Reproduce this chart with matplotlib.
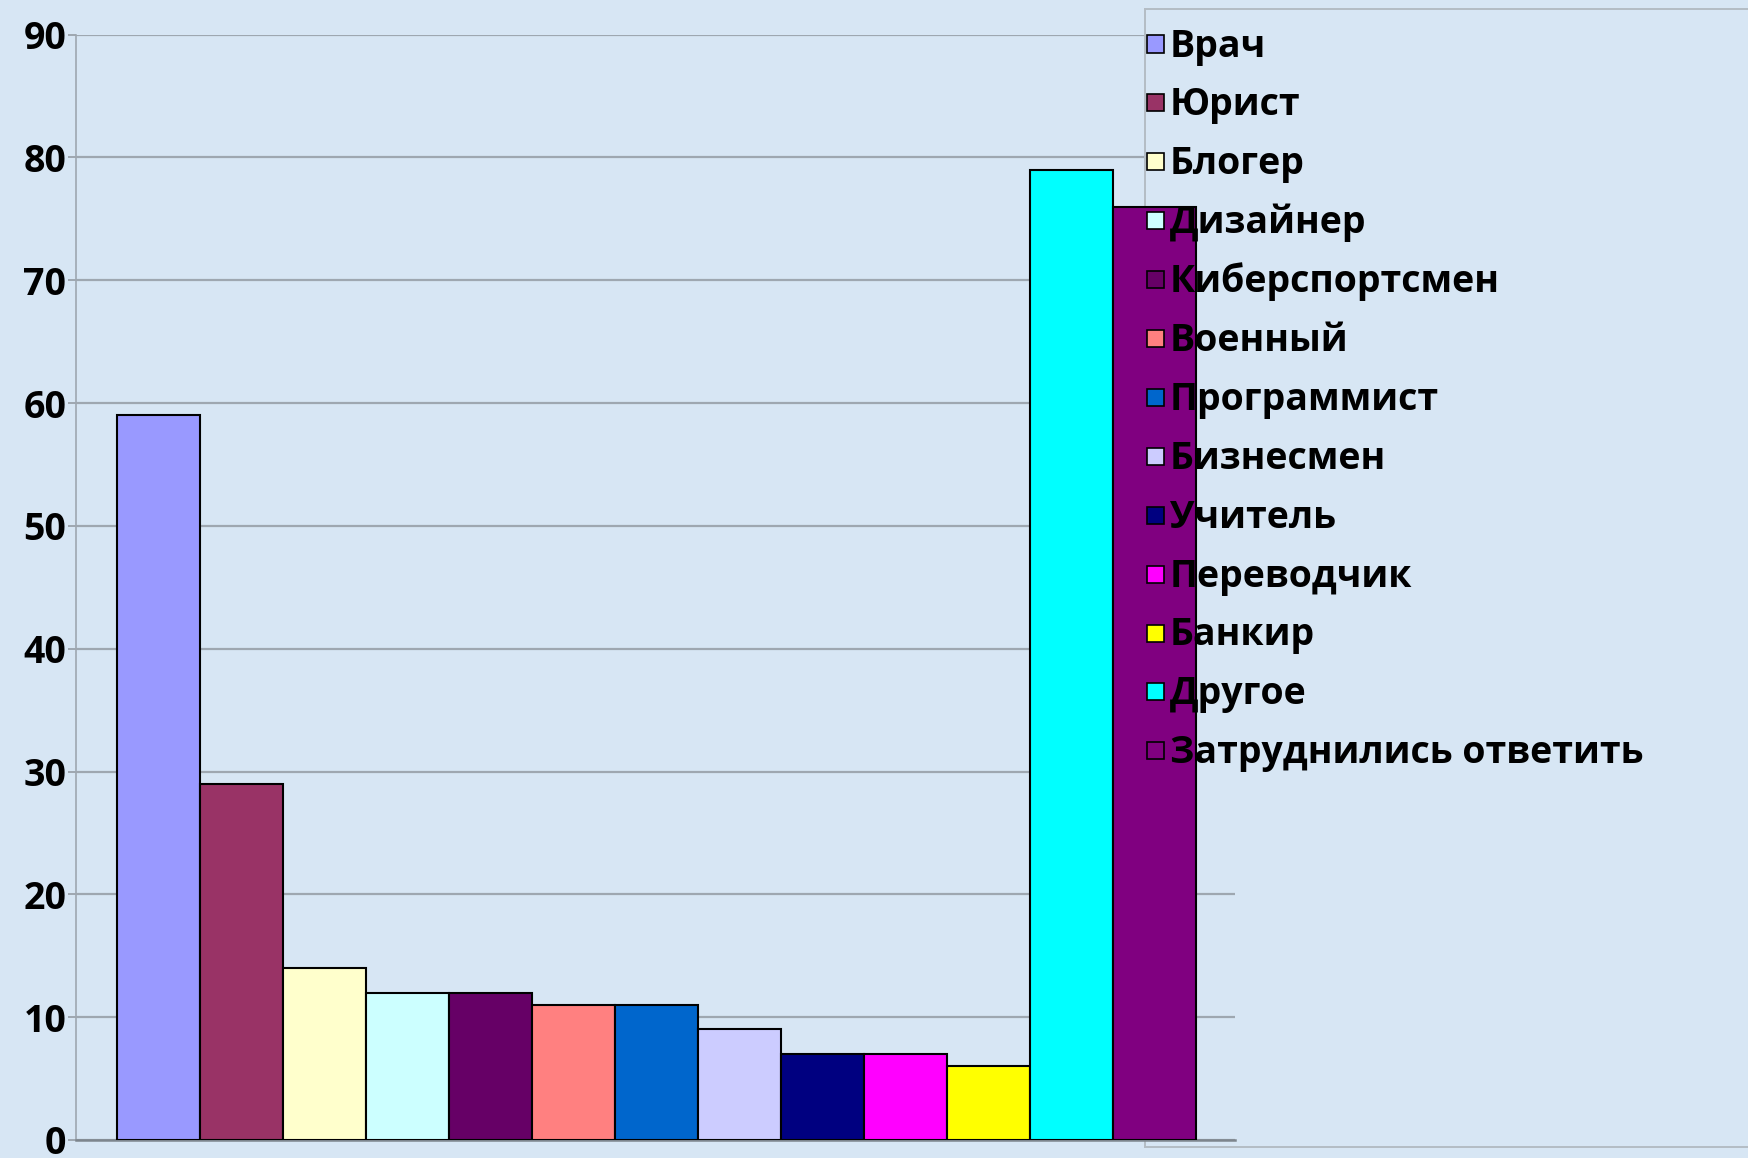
import matplotlib
matplotlib.use("Agg")
import matplotlib.pyplot as plt
from matplotlib.patches import Rectangle
from matplotlib.lines import Line2D

# survey answers (in order of the legend)
professions = ['Врач', 'Юрист', 'Блогер', 'Дизайнер', 'Киберспортсмен', 'Военный',
               'Программист', 'Бизнесмен', 'Учитель', 'Переводчик', 'Банкир',
               'Другое', 'Затруднились ответить']
counts = [59, 29, 14, 12, 12, 11, 11, 9, 7, 7, 6, 79, 76]
colors = ['#9999FF', '#993366', '#FFFFCC', '#CCFFFF', '#660066', '#FF8080',
          '#0066CC', '#CCCCFF', '#000080', '#FF00FF', '#FFFF00', '#00FFFF', '#800080']
yticks = list(range(0, 100, 10))

BG = '#d7e6f4'
GRID = '#9ea7b0'
W, H = 1748, 1158
FS = 27

plt.rcParams['font.family'] = ['Open Sans', 'DejaVu Sans']
plt.rcParams['font.weight'] = 'bold'

fig = plt.figure(figsize=(W / 100, H / 100), dpi=100)
fig.patch.set_facecolor(BG)

ax = fig.add_axes([76 / W, 1 - 1140 / H, (1235 - 76) / W, (1140 - 34.6) / H])
ax.set_facecolor('none')

x = list(range(len(counts)))
ax.bar(x, counts, width=1.0, color=colors, edgecolor='black', linewidth=1.5, zorder=3)

ax.set_xlim(-1.0, 12.97)
ax.set_ylim(0, 90)
ax.set_yticks(yticks)
ax.set_xticks([])
ax.set_axisbelow(True)
ax.yaxis.grid(True, color=GRID, linewidth=1.6, zorder=0.5)
ax.tick_params(axis='y', length=6, width=1.4, color=GRID, pad=1, labelsize=FS)
for lab in ax.get_yticklabels():
    lab.set_fontweight('bold')

for side in ['top', 'right']:
    ax.spines[side].set_visible(False)
ax.spines['left'].set_color(GRID)
ax.spines['left'].set_linewidth(1.2)
ax.spines['bottom'].set_color('#7d858d')
ax.spines['bottom'].set_linewidth(1.8)

# legend box background (under the bars, over the gridlines)
lx0, ly0 = 1145, 9
bgrect = Rectangle((lx0 / W, 1 - 790 / H), (W - lx0) / W, (790 - ly0) / H,
                   transform=fig.transFigure, facecolor=BG, edgecolor='none',
                   zorder=1.5, clip_on=False)
ax.add_artist(bgrect)
frame_kw = dict(transform=fig.transFigure, color='#b4bcc4', linewidth=1.4, zorder=1.6, clip_on=False)
ax.add_artist(Line2D([lx0 / W, 1], [1 - ly0 / H, 1 - ly0 / H], **frame_kw))
ax.add_artist(Line2D([lx0 / W, lx0 / W], [1 - ly0 / H, 1 - 1147 / H], **frame_kw))
ax.add_artist(Line2D([lx0 / W, 1], [1 - 1147 / H, 1 - 1147 / H], **frame_kw))

# legend entries
row0, step = 46.5, 58.9
for i, (name, c) in enumerate(zip(professions, colors)):
    yc = row0 + i * step
    sq = Rectangle((1147 / W, 1 - (yc + 6) / H), 17 / W, 17 / H, transform=fig.transFigure,
                   facecolor=c, edgecolor='black', linewidth=1.2, zorder=6, clip_on=False)
    ax.add_artist(sq)
    fig.text(1170 / W, 1 - yc / H, name, fontsize=FS, fontweight='bold',
             va='center', ha='left', zorder=7)

fig.savefig('out.png', dpi=100, facecolor=BG)
